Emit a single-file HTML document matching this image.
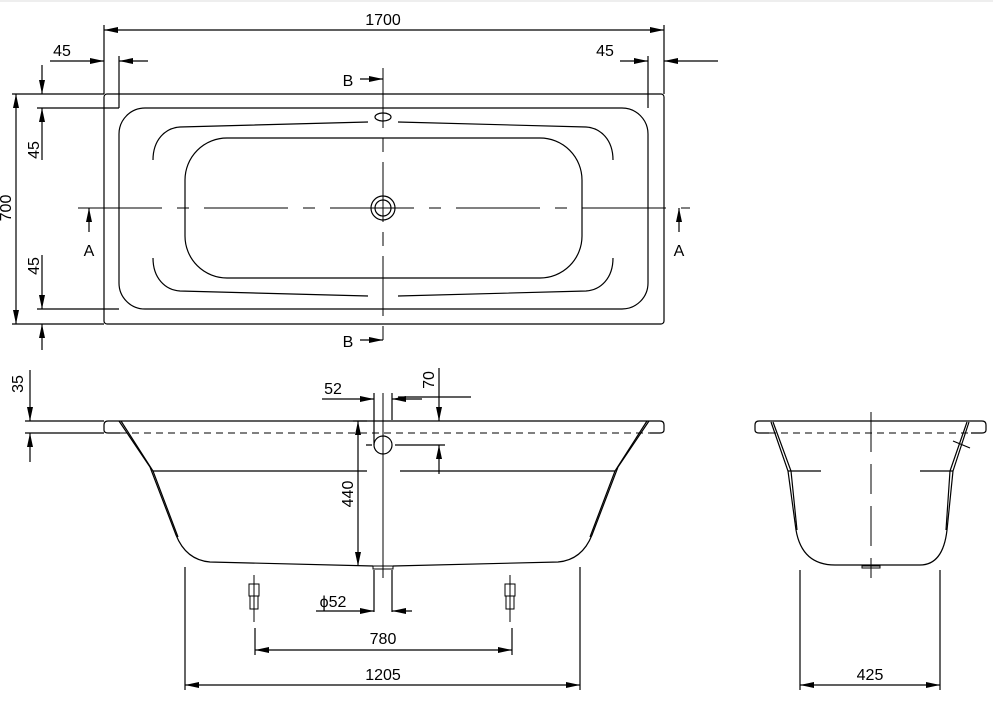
<!DOCTYPE html>
<html><head><meta charset="utf-8"><style>
html,body{margin:0;padding:0;background:#fff;}
svg{display:block;}
text{font-family:"Liberation Sans",sans-serif;font-size:16px;fill:#000;}
</style></head><body>
<svg width="993" height="702" viewBox="0 0 993 702" xmlns="http://www.w3.org/2000/svg">
<defs>
<marker id="a" viewBox="0 0 14 6" refX="14" refY="3" markerWidth="14" markerHeight="6" orient="auto-start-reverse" markerUnits="userSpaceOnUse"><path d="M0,0 L14,3 L0,6 z" fill="#000"/></marker>
</defs>
<rect x="0" y="0" width="993" height="2" fill="#eee"/>
<g stroke="#000" stroke-width="1.2" fill="none">
<!-- TOP VIEW -->
<rect x="104" y="94" width="560" height="230" rx="3"/>
<rect x="119" y="108" width="529" height="201" rx="26"/>
<path d="M153,160 C153,140 165,128 180,127 L368,122"/>
<path d="M613,160 C613,140 601,128 586,127 L398,122"/>
<path d="M153,258 C153,278 165,290 180,291 L368,296"/>
<path d="M613,258 C613,278 601,290 586,291 L398,296"/>
<rect x="185" y="138" width="397" height="140" rx="42"/>
<circle cx="383" cy="208" r="12"/><circle cx="383" cy="208" r="8"/>
<ellipse cx="383" cy="117" rx="8" ry="4"/>
<path d="M78,208 H690" stroke-dasharray="84,15,12,15" stroke-width="1"/>
<path d="M383,68 V350" stroke-dasharray="60,10,14,10" stroke-width="1"/>
<!-- 1700 -->
<path d="M104,25 V94 M664,25 V94"/>
<path d="M104,30 H664" marker-start="url(#a)" marker-end="url(#a)"/>
<!-- 45 top -->
<path d="M119,56 V108 M648,56 V108"/>
<path d="M50,61 H104" marker-end="url(#a)"/><path d="M148,61 H119" marker-end="url(#a)"/>
<path d="M620,61 H648" marker-end="url(#a)"/><path d="M718,61 H664" marker-end="url(#a)"/>
<!-- left vertical -->
<path d="M12,94 H104 M12,324 H104 M37,108 H119 M37,309 H119"/>
<path d="M16,94 V324" marker-start="url(#a)" marker-end="url(#a)"/>
<path d="M42,65 V94" marker-end="url(#a)"/><path d="M42,160 V108" marker-end="url(#a)"/>
<path d="M42,255 V309" marker-end="url(#a)"/><path d="M42,350 V324" marker-end="url(#a)"/>
<!-- A arrows -->
<path d="M89,232 V208" marker-end="url(#a)"/><path d="M679,232 V208" marker-end="url(#a)"/>
<!-- B arrows -->
<path d="M360,79 H383" marker-end="url(#a)"/><path d="M360,340 H383" marker-end="url(#a)"/>

<!-- SIDE VIEW -->
<path d="M25,421 H104 M25,433 H104"/>
<path d="M108,421 H660 Q664,421 664,425 V430 Q664,433 660,433 H650"/>
<path d="M120,433 H108 Q104,433 104,430 V425 Q104,421 108,421"/>
<path d="M120,433 H650" stroke-dasharray="7,5" stroke-width="1"/>
<path d="M119,421 L150,467 L176,535 Q186,560 210,562 L373,566"/>
<path d="M121,421 L153,471 L178,537"/>
<path d="M649,421 L618,467 L592,535 Q582,560 558,562 L393,566"/>
<path d="M647,421 L615,471 L590,537"/>
<path d="M153,471 H367 M400,471 H615"/>
<path d="M373,566 H393 V569 H373 Z" stroke-width="1"/>
<path d="M383,393 V578" stroke-width="1"/>
<circle cx="383" cy="445" r="9"/>
<path d="M374,393 V445 M392,393 V420"/>
<path d="M366,445 H372 M395,445 H445"/>
<path d="M398,397 H471"/>
<!-- 35 -->
<path d="M30,370 V421" marker-end="url(#a)"/><path d="M30,462 V433" marker-end="url(#a)"/>
<!-- 52 -->
<path d="M322,399 H374" marker-end="url(#a)"/><path d="M422,399 H392" marker-end="url(#a)"/>
<!-- 70 -->
<path d="M439,368 V421" marker-end="url(#a)"/><path d="M439,474 V445" marker-end="url(#a)"/>
<!-- 440 -->
<path d="M353,421 H367"/>
<path d="M358,566 V421" marker-end="url(#a)" marker-start="url(#a)"/>
<!-- phi52 -->
<path d="M374,570 V612 M392,570 V612"/>
<path d="M316,611 H374" marker-end="url(#a)"/><path d="M412,611 H392" marker-end="url(#a)"/>
<!-- feet -->
<g stroke-width="1">
<path d="M254,575 V622 M510,575 V622"/>
<rect x="249" y="584" width="10" height="12"/><rect x="250" y="596" width="8" height="13"/>
<rect x="505" y="584" width="10" height="12"/><rect x="506" y="596" width="8" height="13"/>
</g>
<!-- 780 -->
<path d="M255,628 V655 M512,628 V655"/>
<path d="M255,650 H512" marker-start="url(#a)" marker-end="url(#a)"/>
<!-- 1205 -->
<path d="M185,567 V690 M580,567 V690"/>
<path d="M185,685 H580" marker-start="url(#a)" marker-end="url(#a)"/>

<!-- END VIEW -->
<path d="M759,421 H982 Q986,421 986,425 V430 Q986,433 982,433 H971 M759,421 Q755,421 755,425 V430 Q755,433 759,433 H769"/>
<path d="M769,433 H971" stroke-dasharray="7,5" stroke-width="1"/>
<path d="M771,422 L788,471 L796,530 Q802,565 835,565 L920,565 Q943,565 947,530 L953,471 L969,422"/>
<path d="M773,422 L791,471 L797,530 M967,422 L950,471 L946,530"/>
<path d="M788,471 H821 M920,471 H953"/>
<path d="M953,441 L970,448"/>
<path d="M862,566 H880 V568 H862 Z" stroke-width="1"/>
<path d="M871,412 V578" stroke-dasharray="40,12,30,12" stroke-width="1"/>
<path d="M800,570 V690 M940,570 V690"/>
<path d="M800,685 H940" marker-start="url(#a)" marker-end="url(#a)"/>
</g>

<g>
<text x="383" y="25" text-anchor="middle">1700</text>
<text x="62" y="56" text-anchor="middle">45</text>
<text x="605" y="56" text-anchor="middle">45</text>
<text transform="translate(11,208) rotate(-90)" text-anchor="middle">700</text>
<text transform="translate(39,150) rotate(-90)" text-anchor="middle">45</text>
<text transform="translate(39,266) rotate(-90)" text-anchor="middle">45</text>
<text x="89" y="256" text-anchor="middle">A</text>
<text x="679" y="256" text-anchor="middle">A</text>
<text x="348" y="86" text-anchor="middle">B</text>
<text x="348" y="347" text-anchor="middle">B</text>
<text transform="translate(23,384) rotate(-90)" text-anchor="middle">35</text>
<text x="333" y="394" text-anchor="middle">52</text>
<text transform="translate(434,380) rotate(-90)" text-anchor="middle">70</text>
<text transform="translate(353,494) rotate(-90)" text-anchor="middle">440</text>
<text x="333" y="607" text-anchor="middle">ϕ52</text>
<text x="383" y="644" text-anchor="middle">780</text>
<text x="383" y="680" text-anchor="middle">1205</text>
<text x="870" y="680" text-anchor="middle">425</text>
</g>
</svg>
</body></html>
